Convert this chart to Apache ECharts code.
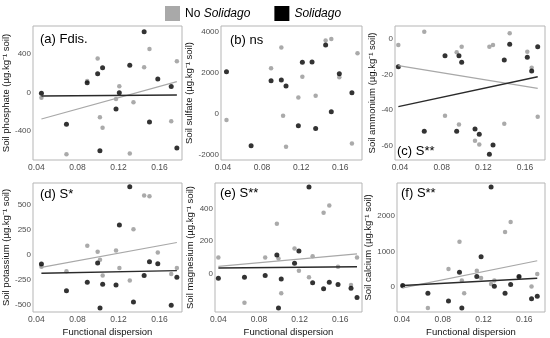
<!DOCTYPE html>
<html><head><meta charset="utf-8">
<script src="https://cdn.jsdelivr.net/npm/echarts@6/dist/echarts.min.js"></script>
<style>html,body{margin:0;padding:0;background:#fff}#c{width:550px;height:338px}</style>
</head><body><div id="c"></div>
<script>
// ---------- data ----------
const seriesNames = ['No Solidago', 'Solidago'];
const xTicks = [0.04, 0.08, 0.12, 0.16];
const xTitle = 'Functional dispersion';
const panelLabels = ['(a) Fdis.', '(b) ns', '(c) S**', '(d) S*', '(e) S**', '(f) S**'];
const yTitles = [
  'Soil phosphate (µg.kg⁻¹ soil)', 'Soil sulfate (µg.kg⁻¹ soil)', 'Soil ammonium (µg.kg⁻¹ soil)',
  'Soil potassium (µg.kg⁻¹ soil)', 'Soil magnesium (µg.kg⁻¹ soil)', 'Soil calcium (µg.kg⁻¹ soil)'
];
const yTicksA = [-400, 0, 400];
const yTicksB = [-2000, 0, 2000, 4000];
const yTicksC = [-60, -40, -20, 0];
const yTicksD = [-500, -250, 0, 250, 500];
const yTicksE = [0, 200, 400];
const yTicksF = [0, 1000, 2000];

const phosphateNo = [[0.0449,-52],[0.0693,-643],[0.0895,122],[0.0997,355],[0.1019,-257],[0.1045,-365],[0.1176,-66],[0.1208,66],[0.131,-633],[0.1346,-101],[0.145,264],[0.1502,456],[0.1714,-299],[0.1769,327]];
const phosphateSol = [[0.0449,-7],[0.0693,-330],[0.0895,104],[0.0997,198],[0.1019,-605],[0.1045,261],[0.1176,-170],[0.1208,0],[0.131,285],[0.145,636],[0.1502,-306],[0.1583,143],[0.1714,63],[0.1769,-577]];
const phosphateNoFit = [[0.0449,-275],[0.1769,115]];
const phosphateSolFit = [[0.0449,-35],[0.1769,-24]];

const sulfateNo = [[0.0436,-327],[0.0892,2207],[0.0997,3221],[0.1015,-114],[0.1045,-1635],[0.1171,785],[0.1212,1798],[0.1348,866],[0.145,3564],[0.1508,3646],[0.159,1766],[0.1719,-1471],[0.1776,2943]];
const sulfateSol = [[0.0436,2044],[0.0688,-1586],[0.0892,1603],[0.0997,1635],[0.1045,1341],[0.1171,-605],[0.1212,2502],[0.1311,2518],[0.1348,-736],[0.145,3352],[0.1508,82],[0.159,1946],[0.1719,1014]];

const ammoniumNo = [[0.0384,-3.4],[0.0633,4.1],[0.0832,-43.1],[0.0944,-7.5],[0.0966,-48],[0.0992,-4.3],[0.112,-57.2],[0.1161,-59.3],[0.1258,-4.3],[0.1293,-3.4],[0.1401,-47.6],[0.1453,3.2],[0.1622,-7.1],[0.1664,-16.1],[0.1722,-43.7]];
const ammoniumSol = [[0.0384,-15.6],[0.0633,-51.8],[0.0832,-9.4],[0.0944,-51.8],[0.0966,-9.4],[0.0992,-13.1],[0.112,-50.6],[0.1161,-53.6],[0.1258,-64.7],[0.1293,-59.6],[0.1401,-11.8],[0.1453,-3],[0.1622,-10.3],[0.1664,-18],[0.1722,-4.3]];
const ammoniumNoFit = [[0.0384,-15],[0.1722,-27.75]];
const ammoniumSolFit = [[0.0384,-38],[0.1722,-21.2]];

const potassiumNo = [[0.0449,-119],[0.0693,-166],[0.0896,90],[0.0997,30],[0.102,-50],[0.1046,-209],[0.1176,43],[0.1209,-133],[0.131,-259],[0.1346,255],[0.145,594],[0.1502,587],[0.1583,23],[0.1714,-192],[0.1769,-133]];
const potassiumSol = [[0.0449,-93],[0.0693,-361],[0.0896,-275],[0.0997,-83],[0.102,-534],[0.1046,-295],[0.1176,-302],[0.1209,298],[0.131,683],[0.1346,-474],[0.145,-209],[0.1502,-70],[0.1583,-90],[0.1714,-507],[0.1769,-225]];
const potassiumNoFit = [[0.0449,-126],[0.1769,123]];
const potassiumSolFit = [[0.0449,-186],[0.1769,-159]];

const magnesiumNo = [[0.04,98],[0.0657,-183],[0.0861,98],[0.0976,308],[0.0992,92],[0.1019,-123],[0.115,154],[0.1193,16],[0.1292,-25],[0.1328,105],[0.1436,375],[0.1492,420],[0.1578,41],[0.1706,-72],[0.1765,98]];
const magnesiumSol = [[0.04,-31],[0.0657,-25],[0.0861,-14],[0.0976,113],[0.0992,-215],[0.1019,-35],[0.115,62],[0.1193,139],[0.1292,535],[0.1328,-59],[0.1436,-96],[0.1492,-55],[0.1578,-70],[0.1706,-92],[0.1765,-150]];
const magnesiumNoFit = [[0.04,43],[0.1765,121]];
const magnesiumSolFit = [[0.04,33],[0.1765,41]];

const calciumNo = [[0.0407,28],[0.0654,-581],[0.0856,507],[0.0964,1263],[0.0987,184],[0.101,-166],[0.1134,461],[0.1176,258],[0.1274,92],[0.1306,184],[0.1411,1539],[0.1466,1816],[0.1548,277],[0.1671,18],[0.1727,369]];
const calciumSol = [[0.0407,46],[0.0654,-166],[0.0856,-387],[0.0964,415],[0.0987,-581],[0.1134,295],[0.1176,848],[0.1274,2793],[0.1306,28],[0.1411,-166],[0.1466,74],[0.1548,295],[0.1671,-323],[0.1727,-249]];
const calciumNoFit = [[0.0407,-18],[0.1727,737]];
const calciumSolFit = [[0.0407,46],[0.1727,249]];

// ---------- layout ----------
const panels = [
  {grid:{left:33, top:26, width:149, height:134}, x:[0.0367,0.1819], y:[-702,695], yt:yTicksA, no:phosphateNo, sol:phosphateSol, noFit:phosphateNoFit, solFit:phosphateSolFit, gap:17, lab:[40,39], xTitle:false},
  {grid:{left:221, top:26, width:141, height:134}, x:[0.038,0.1822], y:[-2279,4279], yt:yTicksB, no:sulfateNo, sol:sulfateSol, noFit:null, solFit:null, gap:23, lab:[230,40], xTitle:false},
  {grid:{left:395, top:26, width:150, height:134}, x:[0.0352,0.1792], y:[-68,7.3], yt:yTicksC, no:ammoniumNo, sol:ammoniumSol, noFit:ammoniumNoFit, solFit:ammoniumSolFit, gap:17, lab:[397,151], xTitle:false},
  {grid:{left:33, top:183, width:149, height:130}, x:[0.0367,0.1819], y:[-574,720], yt:yTicksD, no:potassiumNo, sol:potassiumSol, noFit:potassiumNoFit, solFit:potassiumSolFit, gap:17, lab:[40,194], xTitle:true},
  {grid:{left:215, top:183, width:147, height:130}, x:[0.0367,0.1814], y:[-240,560], yt:yTicksE, no:magnesiumNo, sol:magnesiumSol, noFit:magnesiumNoFit, solFit:magnesiumSolFit, gap:17, lab:[220,193], xTitle:true},
  {grid:{left:397, top:183, width:148, height:130}, x:[0.0351,0.1803], y:[-691,2903], yt:yTicksF, no:calciumNo, sol:calciumSol, noFit:calciumNoFit, solFit:calciumSolFit, gap:18, lab:[401,193], xTitle:true}
];

const FONT = '"Liberation Sans", Arial, sans-serif';
const grids = [], xAxes = [], yAxes = [], series = [], graphics = [];
panels.forEach((p, i) => {
  grids.push(Object.assign({show:true, borderColor:'#b5b5b5', borderWidth:1, backgroundColor:'transparent', containLabel:false}, p.grid));
  xAxes.push({
    type:'value', gridIndex:i, min:p.x[0], max:p.x[1],
    axisLine:{show:false}, axisTick:{show:false}, splitLine:{show:false},
    axisLabel:{customValues:xTicks, formatter:v => v.toFixed(2), fontSize:8.5, color:'#4d4d4d', margin:3, fontFamily:FONT},
    name: p.xTitle ? xTitle : '', nameLocation:'middle', nameGap:15,
    nameTextStyle:{fontSize:9.5, color:'#111', fontFamily:FONT}
  });
  yAxes.push({
    type:'value', gridIndex:i, min:p.y[0], max:p.y[1],
    axisLine:{show:false}, axisTick:{show:false}, splitLine:{show:false},
    axisLabel:{customValues:p.yt, formatter:v => String(v), fontSize:8, color:'#4d4d4d', margin:2, fontFamily:FONT},
    name:yTitles[i], nameLocation:'middle', nameGap:p.gap, nameRotate:90,
    nameTextStyle:{fontSize:9.5, color:'#111', fontFamily:FONT}
  });
  series.push({name:seriesNames[0], type:'scatter', xAxisIndex:i, yAxisIndex:i, data:p.no, symbolSize:4.5, itemStyle:{color:'#959595'}, z:2, silent:true});
  series.push({name:seriesNames[1], type:'scatter', xAxisIndex:i, yAxisIndex:i, data:p.sol, symbolSize:5, itemStyle:{color:'#000'}, z:3, silent:true});
  if (p.noFit) series.push({name:'fit-no', type:'line', xAxisIndex:i, yAxisIndex:i, data:p.noFit, symbol:'none', lineStyle:{color:'#a8a8a8', width:1.2}, z:4, silent:true});
  if (p.solFit) series.push({name:'fit-sol', type:'line', xAxisIndex:i, yAxisIndex:i, data:p.solFit, symbol:'none', lineStyle:{color:'#2a2a2a', width:1.4}, z:4, silent:true});
  graphics.push({type:'text', x:p.lab[0], y:p.lab[1], style:{text:panelLabels[i], font:'13px ' + FONT, fill:'#000', verticalAlign:'middle'}});
});

const chart = echarts.init(document.getElementById('c'), null, {renderer:'canvas'});
chart.setOption({
  backgroundColor:'#fff',
  animation:false,
  legend:{
    left:165, top:6, itemWidth:15, itemHeight:15, itemGap:24, padding:0, icon:'rect',
    data:[{name:seriesNames[0], itemStyle:{color:'#a9a9a9', opacity:1}}, {name:seriesNames[1], itemStyle:{color:'#000', opacity:1}}],
    formatter: n => n === 'No Solidago' ? 'No {i|Solidago}' : '{i|Solidago}',
    textStyle:{fontSize:12, color:'#000', fontFamily:FONT, rich:{i:{fontStyle:'italic', fontSize:12, fontFamily:FONT}}}
  },
  grid:grids, xAxis:xAxes, yAxis:yAxes, series:series, graphic:graphics
});
</script></body></html>
